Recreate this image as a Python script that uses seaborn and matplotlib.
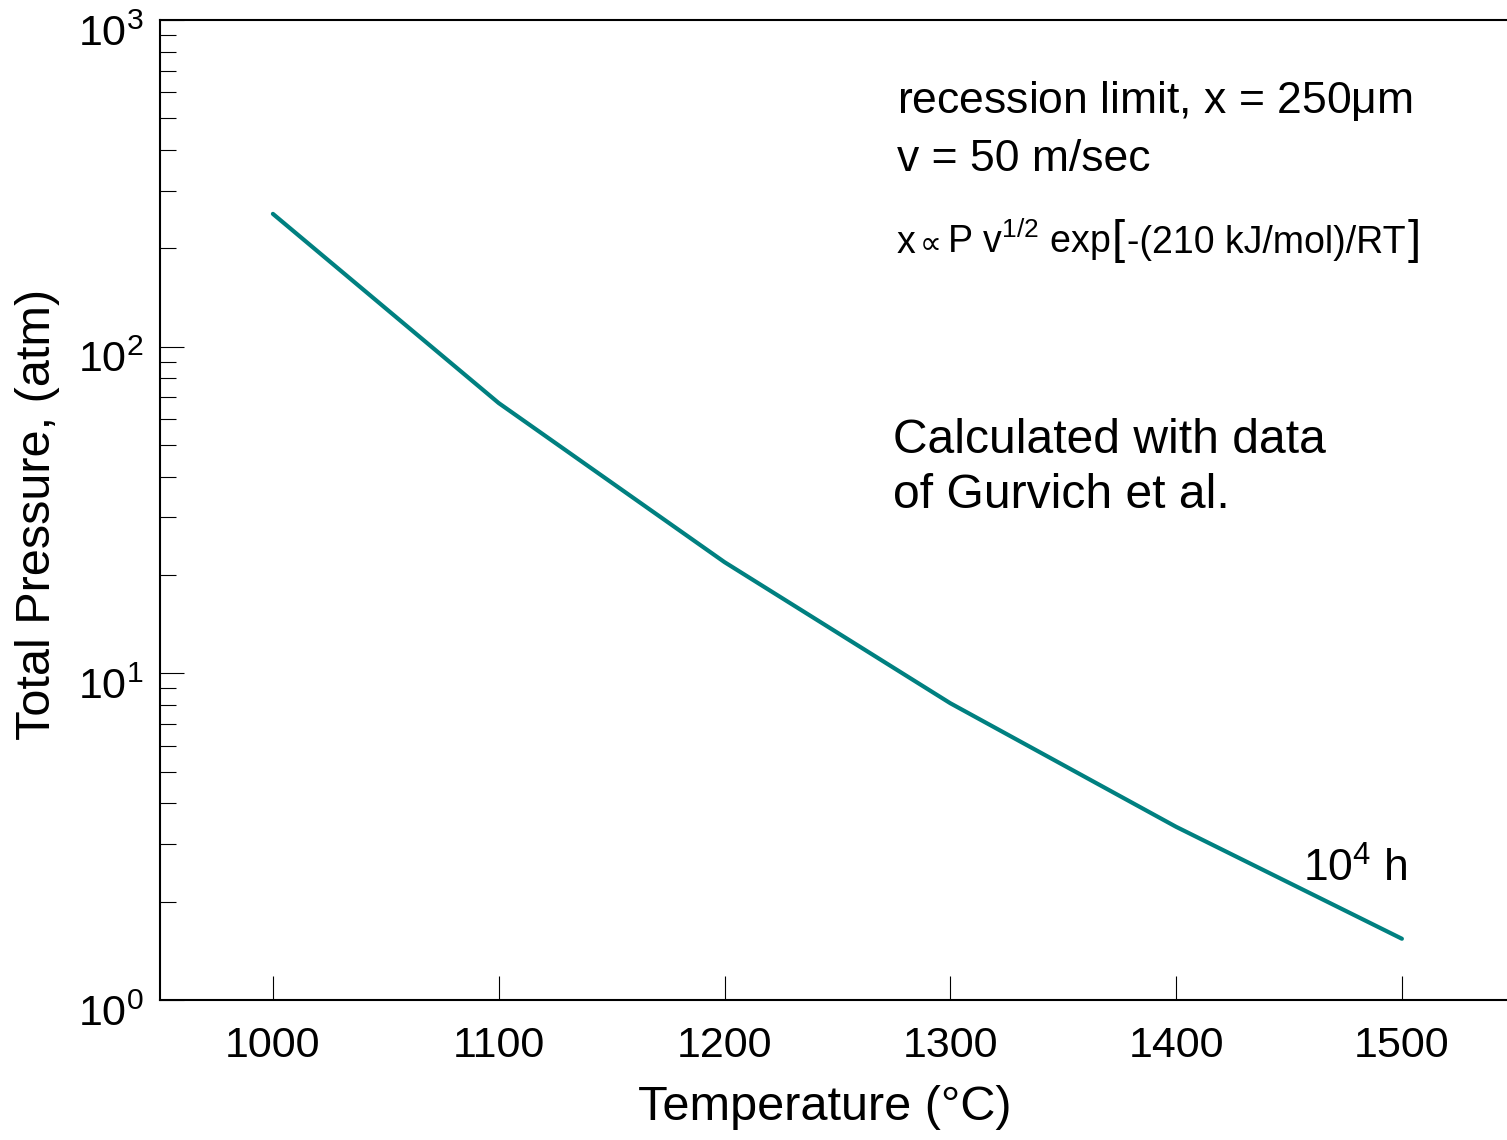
"""
Recession limit: total pressure vs temperature
===============================================
"""

# Libraries
import pandas as pd
import seaborn as sns
import matplotlib.pyplot as plt
import matplotlib.transforms as mtransforms
from matplotlib import rcParams
from matplotlib.ticker import LogLocator, NullFormatter

# -----------------------------------
# Data
# -----------------------------------
temperature = [1000, 1100, 1200, 1300, 1400, 1500]
pressure = [255, 67.2, 21.9, 8.1, 3.39, 1.54]

x_ticks = [1000, 1100, 1200, 1300, 1400, 1500]

data = pd.DataFrame({'T': temperature, 'P': pressure})

# -----------------------------------
# Configuration
# -----------------------------------
sns.set_style('white')

rcParams.update({
    'font.family': ['Liberation Sans', 'DejaVu Sans'],
    'mathtext.fontset': 'custom',
    'mathtext.rm': 'Liberation Sans',
    'mathtext.it': 'Liberation Sans:italic',
    'mathtext.bf': 'Liberation Sans:bold',
    'mathtext.sf': 'Liberation Sans',
    'mathtext.default': 'regular',
    'axes.edgecolor': 'black',
    'axes.linewidth': 1.5,
    'text.color': 'black',
    'axes.labelcolor': 'black',
    'xtick.color': 'black',
    'ytick.color': 'black',
})

TEAL = '#008080'

# -----------------------------------
# Plot
# -----------------------------------
fig = plt.figure(figsize=(15.07, 11.40), dpi=100)
ax = fig.add_axes([160 / 1507, 140 / 1140, 1354.8 / 1507, 980 / 1140])

sns.lineplot(data=data, x='T', y='P', color=TEAL, linewidth=3,
             ax=ax, legend=False)

# Axes
ax.set_yscale('log')
ax.set_xlim(950, 1550)
ax.set_ylim(1, 1000)
ax.set_xticks(x_ticks)
ax.yaxis.set_major_locator(LogLocator(base=10, numticks=10))
ax.yaxis.set_minor_locator(LogLocator(base=10, subs=range(2, 10), numticks=20))
ax.yaxis.set_minor_formatter(NullFormatter())

ax.tick_params(axis='both', which='both', bottom=True, left=True,
               top=False, right=False)
ax.tick_params(axis='both', which='major', direction='in', length=17,
               width=0.8, labelsize=31)
ax.tick_params(axis='y', which='minor', direction='in', length=11.5,
               width=0.8)
ax.tick_params(axis='x', which='major', pad=19)
ax.tick_params(axis='y', which='major', pad=12)

# Y tick labels sit a little below their ticks in the reference
shift = mtransforms.ScaledTranslation(0, -10 / 100, fig.dpi_scale_trans)
for lab in ax.get_yticklabels():
    lab.set_transform(lab.get_transform() + shift)

ax.set_xlabel('Temperature (°C)', fontsize=35)
ax.set_ylabel('Total Pressure, (atm)', fontsize=35)
ax.xaxis.set_label_coords(0.491, -0.087)
ax.yaxis.set_label_coords(-0.074, 0.495)

# Annotations
ax.text(0.544, 0.905, r'recession limit, x = 250$\mu$m', fontsize=32,
        transform=ax.transAxes, va='baseline')
ax.text(0.544, 0.846, 'v = 50 m/sec', fontsize=32,
        transform=ax.transAxes, va='baseline')

y3 = 0.762
t0 = ax.text(0.544, y3, 'x', fontsize=27,
             transform=ax.transAxes, va='baseline')
tp = ax.annotate('∝', xy=(1, y3), xycoords=(t0, ax.transAxes),
                 xytext=(3, 0), textcoords='offset points',
                 fontsize=22, family='DejaVu Sans', va='baseline')
t1 = ax.annotate(r'P v$^{1/2}$ exp', xy=(1, y3), xycoords=(tp, ax.transAxes),
                 xytext=(4, 0), textcoords='offset points',
                 fontsize=27, va='baseline')
t2 = ax.annotate('[', xy=(1, y3), xycoords=(t1, ax.transAxes),
                 xytext=(1, 0), textcoords='offset points',
                 fontsize=34, va='baseline')
t3 = ax.annotate('-(210 kJ/mol)/RT', xy=(1, y3), xycoords=(t2, ax.transAxes),
                 xytext=(1, 0), textcoords='offset points',
                 fontsize=27, va='baseline')
ax.annotate(']', xy=(1, y3), xycoords=(t3, ax.transAxes),
            xytext=(2, 0), textcoords='offset points',
            fontsize=34, va='baseline')

ax.text(0.541, 0.558, 'Calculated with data', fontsize=34.6,
        transform=ax.transAxes, va='baseline')
ax.text(0.541, 0.502, 'of Gurvich et al.', fontsize=34.6,
        transform=ax.transAxes, va='baseline')

ax.text(0.8437, 0.1204, r'10$^{4}$ h', fontsize=32,
        transform=ax.transAxes, va='baseline')

sns.despine(ax=ax, top=False, right=False)

fig.savefig('out.png', dpi=100)
